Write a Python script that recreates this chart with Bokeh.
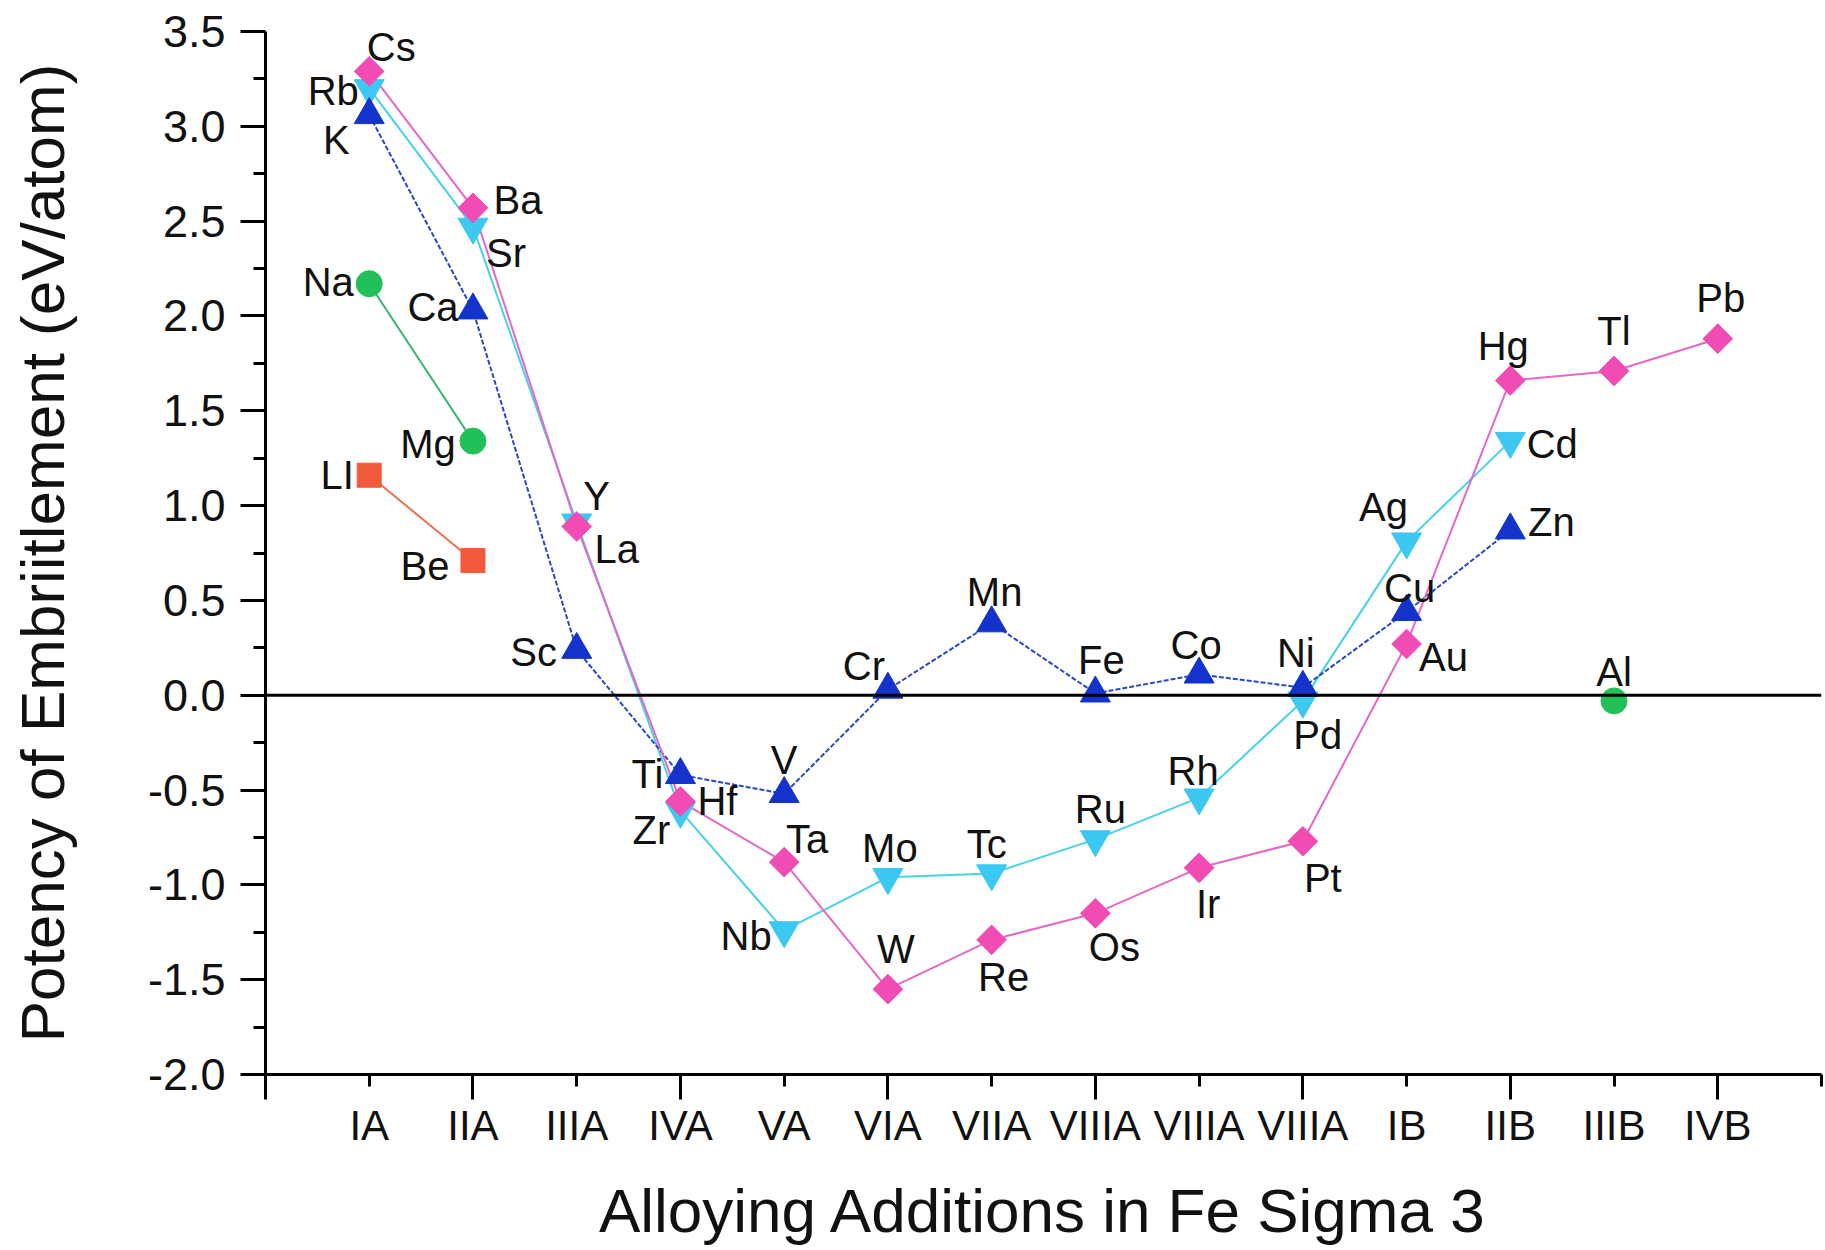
import math
from bokeh.plotting import figure
from bokeh.models import ColumnDataSource, FixedTicker, PrintfTickFormatter, Span, Range1d
from bokeh.core.properties import value
from bokeh.embed import file_html
from bokeh.resources import INLINE

# ---------------- data ----------------
groups = ["IA", "IIA", "IIIA", "IVA", "VA", "VIA", "VIIA", "VIIIA", "VIIIA", "VIIIA",
          "IB", "IIB", "IIIB", "IVB"]

pink_names = ["Cs", "Ba", "La", "Hf", "Ta", "W", "Re", "Os", "Ir", "Pt", "Au", "Hg", "Tl", "Pb"]
pink_x = [1, 2, 3, 4, 5, 6, 7, 8, 9, 10, 11, 12, 13, 14]
pink_y = [3.29, 2.57, 0.89, -0.56, -0.88, -1.55, -1.29, -1.15, -0.91, -0.77, 0.27, 1.66, 1.71, 1.88]

cyan_names = ["Rb", "Sr", "Y", "Zr", "Nb", "Mo", "Tc", "Ru", "Rh", "Pd", "Ag", "Cd"]
cyan_x = [1, 2, 3, 4, 5, 6, 7, 8, 9, 10, 11, 12]
cyan_y = [3.20, 2.47, 0.91, -0.61, -1.24, -0.96, -0.94, -0.76, -0.54, -0.03, 0.81, 1.34]

blue_names = ["K", "Ca", "Sc", "Ti", "V", "Cr", "Mn", "Fe", "Co", "Ni", "Cu", "Zn"]
blue_x = [1, 2, 3, 4, 5, 6, 7, 8, 9, 10, 11, 12]
blue_y = [3.06, 2.03, 0.24, -0.42, -0.52, 0.03, 0.38, 0.01, 0.11, 0.04, 0.44, 0.87]

green_names = ["Na", "Mg", "Al"]
green_x = [1, 2, 13]
green_y = [2.17, 1.34, -0.03]

red_names = ["LI", "Be"]
red_x = [1, 2]
red_y = [1.16, 0.71]

y_ticks = [-2.0, -1.5, -1.0, -0.5, 0.0, 0.5, 1.0, 1.5, 2.0, 2.5, 3.0, 3.5]
y_minor = [-1.75, -1.25, -0.75, -0.25, 0.25, 0.75, 1.25, 1.75, 2.25, 2.75, 3.25]

# ---------------- layout / style (label offsets in screen px, y down) ----------------
label_offsets = {
    "Cs": (22, -24), "Rb": (-36, 3), "K": (-33, 25), "Na": (-41, -2), "LI": (-32, 0),
    "Ba": (45, -8), "Sr": (33, 26), "Ca": (-40, -3), "Mg": (-45, 3), "Be": (-48, 5),
    "Y": (20, -27), "La": (40, 23), "Sc": (-43, 2),
    "Ti": (-33, -1), "Hf": (37, 0), "Zr": (-29, 19),
    "V": (0, -34), "Ta": (23, -23), "Nb": (-38, 6),
    "Cr": (-24, -24), "Mo": (2, -29), "W": (8, -40),
    "Mn": (3, -31), "Tc": (-5, -29), "Re": (12, 37),
    "Fe": (6, -33), "Ru": (5, -30), "Os": (19, 34),
    "Co": (-3, -29), "Rh": (-6, -27), "Ir": (9, 36),
    "Ni": (-7, -35), "Pd": (15, 34), "Pt": (20, 37),
    "Ag": (-23, -35), "Cu": (3, -24), "Au": (37, 13),
    "Hg": (-7, -34), "Cd": (42, 3), "Zn": (41, -8),
    "Tl": (0, -40), "Al": (0, -29), "Pb": (3, -41),
}

FONT = "Liberation Sans"
PINK, PINK_L = "#f04cb4", "#e468c8"
CYAN, CYAN_L = "#3cc8f0", "#48d2e6"
BLUE, BLUE_L = "#1433cc", "#2a48c4"
GREEN, GREEN_L = "#22c058", "#3cb474"
RED, RED_L = "#f25a3c", "#f07050"

p = figure(width=1825, height=1250, output_backend="svg", toolbar_location=None,
           x_range=Range1d(0, 15), y_range=Range1d(-2.0, 3.5),
           min_border_left=265, min_border_right=4, min_border_top=31, min_border_bottom=176,
           background_fill_color="white", border_fill_color="white")
p.outline_line_color = None
p.xgrid.visible = False
p.ygrid.visible = False

# zero line
p.add_layout(Span(location=0, dimension="width", line_color="black", line_width=3))

# lines
p.line(green_x[:2], green_y[:2], line_color=GREEN_L, line_width=2)
p.line(red_x, red_y, line_color=RED_L, line_width=2)
p.line(cyan_x, cyan_y, line_color=CYAN_L, line_width=2)
p.line(blue_x, blue_y, line_color=BLUE_L, line_width=2, line_dash="5 2")
p.line(pink_x, pink_y, line_color=PINK_L, line_width=2)

# markers
p.scatter(red_x, red_y, marker="square", size=24, fill_color=RED, line_color=RED)
p.scatter(green_x, green_y, marker="circle", size=26, fill_color=GREEN, line_color=GREEN)
p.scatter(cyan_x, cyan_y, marker="inverted_triangle", size=30, fill_color=CYAN, line_color=CYAN)
p.scatter(blue_x, blue_y, marker="triangle", size=30, fill_color=BLUE, line_color=BLUE)
p.scatter(pink_x, pink_y, marker="square", size=21, angle=math.pi / 4,
          fill_color=PINK, line_color=PINK)

# element labels
names = pink_names + cyan_names + blue_names + green_names + red_names
xs = pink_x + cyan_x + blue_x + green_x + red_x
ys = pink_y + cyan_y + blue_y + green_y + red_y
src = ColumnDataSource(dict(
    x=xs, y=ys, text=names,
    dx=[label_offsets[n][0] for n in names],
    dy=[label_offsets[n][1] for n in names],
))
p.text(x="x", y="y", text="text", x_offset="dx", y_offset="dy", source=src,
       text_font=value(FONT), text_font_size="40px", text_color="#111111",
       text_align="center", text_baseline="middle")

# axes
xa = p.xaxis[0]
ya = p.yaxis[0]
xa.ticker = FixedTicker(ticks=list(range(1, 16)), minor_ticks=list(range(0, 15, 2)))
xa.major_label_overrides = {i + 1: g for i, g in enumerate(groups)} | {15: ""}
ya.ticker = FixedTicker(ticks=y_ticks, minor_ticks=y_minor)
ya.formatter = PrintfTickFormatter(format="%.1f")

for ax in (xa, ya):
    ax.axis_line_width = 3
    ax.axis_line_color = "black"
    ax.major_tick_line_width = 3
    ax.minor_tick_line_width = 3
    ax.major_tick_in = 0
    ax.minor_tick_in = 0
    ax.major_label_text_font = FONT
    ax.major_label_text_color = "#111111"
    ax.axis_label_text_font = FONT
    ax.axis_label_text_font_size = "62px"
    ax.axis_label_text_font_style = "normal"
    ax.axis_label_text_color = "#111111"

xa.major_label_text_font_size = "42px"
ya.major_label_text_font_size = "45px"

xa.major_tick_out = 12
xa.minor_tick_out = 25
xa.major_label_standoff = 2
xa.axis_label = "Alloying Additions in Fe Sigma 3"
xa.axis_label_standoff = 24

ya.major_tick_out = 25
ya.minor_tick_out = 12
ya.major_label_standoff = 15
ya.axis_label = "Potency of Embriitlement (eV/atom)"
ya.axis_label_standoff = 68

open("out.html", "w").write(file_html(p, INLINE))
